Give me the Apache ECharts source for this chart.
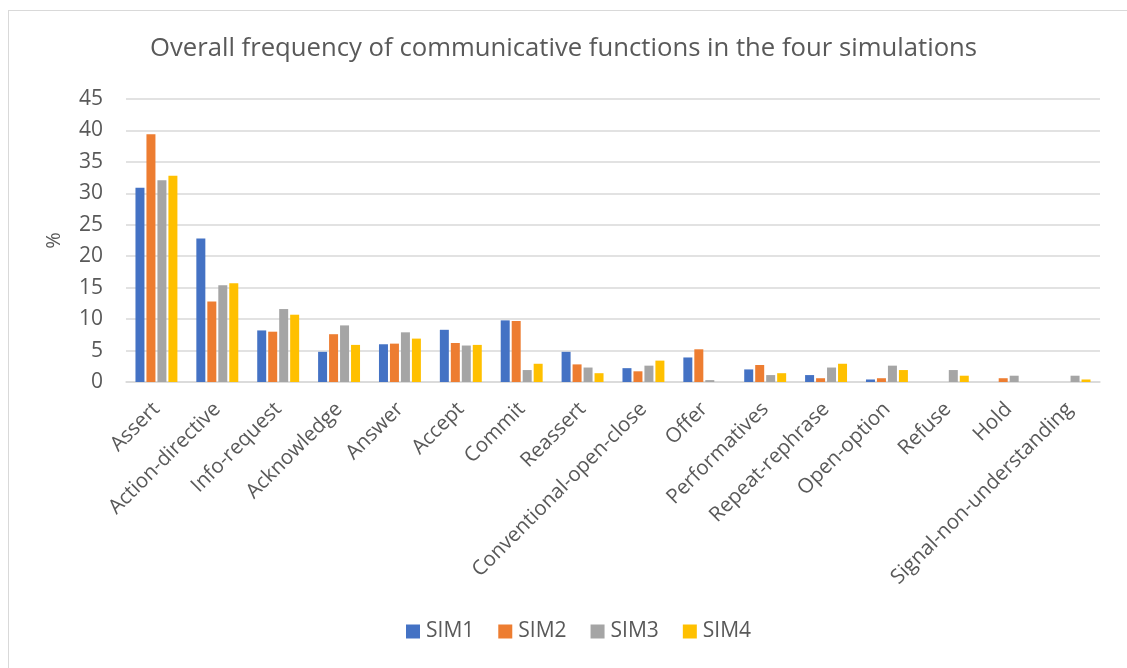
<!DOCTYPE html>
<html>
<head>
<meta charset="utf-8">
<script src="https://cdn.jsdelivr.net/npm/echarts@6/dist/echarts.min.js"></script>
<style>
  html, body { margin: 0; padding: 0; background: #fff; }
  #frame { position: absolute; left: 8px; top: 10px; right: -2px; bottom: -2px; border: 1px solid #d9d9d9; }
  #chart { position: absolute; left: 0; top: 0; width: 1127px; height: 668px; }
</style>
</head>
<body>
<div id="frame"></div>
<div id="chart"></div>
<script>
// Communicative function categories
const categories = [
  'Assert', 'Action-directive', 'Info-request', 'Acknowledge', 'Answer', 'Accept',
  'Commit', 'Reassert', 'Conventional-open-close', 'Offer', 'Performatives',
  'Repeat-rephrase', 'Open-option', 'Refuse', 'Hold', 'Signal-non-understanding'
];

// Percentage of each function per simulation
const sim1 = [30.9, 22.8, 8.2, 4.8, 6.0, 8.3, 9.8, 4.8, 2.2, 3.9, 2.0, 1.1, 0.4, 0, 0, 0];
const sim2 = [39.4, 12.8, 8.0, 7.6, 6.1, 6.2, 9.7, 2.8, 1.7, 5.2, 2.7, 0.6, 0.6, 0, 0.6, 0];
const sim3 = [32.1, 15.4, 11.6, 9.0, 7.9, 5.8, 1.9, 2.3, 2.6, 0.3, 1.1, 2.3, 2.6, 1.9, 1.0, 1.0];
const sim4 = [32.8, 15.7, 10.7, 5.9, 6.9, 5.9, 2.9, 1.4, 3.4, 0, 1.4, 2.9, 1.9, 1.0, 0, 0.4];

const seriesNames = ['SIM1', 'SIM2', 'SIM3', 'SIM4'];
const seriesData = [sim1, sim2, sim3, sim4];
const colors = ['#4472C4', '#ED7D31', '#A5A5A5', '#FFC000'];

const font = '"Open Sans", "Noto Sans", sans-serif';
const textColor = '#595959';

const chart = echarts.init(document.getElementById('chart'), null, { renderer: 'canvas' });
chart.setOption({
  animation: false,
  color: colors,
  title: {
    text: 'Overall frequency of communicative functions in the four simulations',
    left: 'center',
    top: 31,
    textStyle: { fontFamily: font, fontSize: 25.7, fontWeight: 'normal', color: textColor }
  },
  legend: {
    top: 616,
    left: 401,
    itemWidth: 14,
    itemHeight: 14,
    itemGap: 24,
    icon: 'rect',
    textStyle: { fontFamily: font, fontSize: 21, color: textColor, padding: [0, 0, 0, 1] },
    data: seriesNames
  },
  grid: { left: 126, right: 27, top: 99, bottom: 286, containLabel: false },
  xAxis: {
    type: 'category',
    data: categories,
    axisLine: { lineStyle: { color: '#d9d9d9', width: 1.5 } },
    axisTick: { show: false },
    axisLabel: {
      interval: 0,
      rotate: 45,
      margin: 24,
      fontFamily: font,
      fontSize: 20.5,
      color: textColor
    }
  },
  yAxis: {
    type: 'value',
    min: 0,
    max: 45,
    interval: 5,
    name: '%',
    nameLocation: 'middle',
    nameGap: 62,
    nameRotate: 90,
    nameTextStyle: { fontFamily: font, fontSize: 20, color: textColor },
    axisLine: { show: false },
    axisTick: { show: false },
    splitLine: { lineStyle: { color: '#d9d9d9', width: 1.5 } },
    axisLabel: { fontFamily: font, fontSize: 21, color: textColor, margin: 23 }
  },
  series: seriesData.map((d, i) => ({
    name: seriesNames[i],
    type: 'bar',
    data: d,
    barWidth: 9,
    barGap: '22%'
  }))
});
</script>
</body>
</html>
